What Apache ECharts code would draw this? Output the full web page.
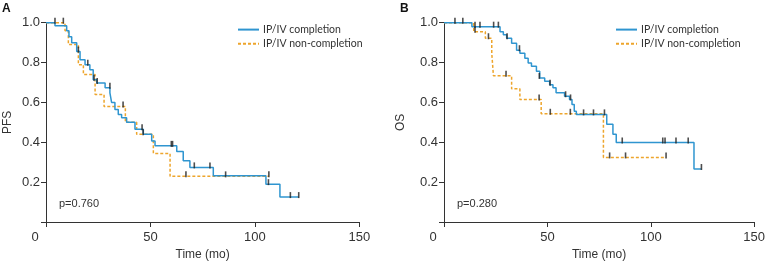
<!DOCTYPE html>
<html>
<head>
<meta charset="utf-8">
<script src="https://cdn.jsdelivr.net/npm/echarts@6/dist/echarts.min.js"></script>
<style>
  html, body { margin: 0; padding: 0; background: #fff; }
  #chart { width: 768px; height: 266px; }
</style>
</head>
<body>
<div id="chart"></div>
<script>
var names = ['IP/IV completion', 'IP/IV non-completion'];
var xTicks = [0, 50, 100, 150];

// PFS (panel A)
var pfsComp = [[0,1],[4.3,0.985],[9.9,0.96],[11,0.93],[12.3,0.9],[14.7,0.855],[16.3,0.814],[18.7,0.789],[21,0.764],[22.6,0.714],[24.3,0.698],[28.3,0.673],[30.6,0.648],[31.4,0.6],[33,0.565],[34.6,0.54],[36.2,0.523],[38.6,0.5],[42.6,0.465],[46.6,0.44],[50.6,0.407],[52.2,0.382],[62.6,0.354],[65.7,0.307],[68.9,0.274],[80.1,0.232],[105.3,0.19],[112,0.125],[121,0.125]];
var pfsNon = [[0,1],[9.1,0.96],[10.7,0.89],[15.5,0.789],[17.9,0.74],[23.5,0.64],[27.8,0.58],[38,0.5],[43.4,0.44],[51.4,0.344],[59.4,0.229],[106.7,0.229]];
var pfsCompCens = [[4.3,1],[8.3,1],[15.5,0.855],[20,0.789],[23,0.714],[24.5,0.698],[30.6,0.673],[46,0.465],[60,0.382],[60.6,0.382],[71,0.274],[78.5,0.274],[106.5,0.19],[117,0.125],[121,0.125]];
var pfsNonCens = [[36.9,0.58],[46.5,0.44],[67,0.229],[86,0.229],[106.7,0.229]];

// OS (panel B)
var osComp = [[0,1],[13.5,0.98],[27.1,0.955],[28.7,0.94],[30.3,0.922],[32.7,0.897],[35.1,0.862],[36.7,0.847],[39.1,0.822],[40.7,0.798],[42.3,0.781],[44.7,0.756],[46.3,0.723],[48.7,0.706],[51.1,0.689],[52.7,0.673],[54.2,0.648],[58.3,0.631],[60.7,0.615],[61.9,0.59],[63,0.556],[64,0.54],[78.7,0.49],[81.7,0.44],[83.3,0.399],[120.9,0.266],[124.5,0.266]];
var osNon = [[0,1],[14.4,0.955],[20,0.922],[23.1,0.847],[23.9,0.734],[32.7,0.668],[36.7,0.615],[47,0.543],[77.1,0.324],[107.4,0.324]];
var osCompCens = [[5.3,1],[9.1,1],[15,0.98],[17.4,0.98],[24,0.98],[26.3,0.98],[30.5,0.922],[36.5,0.862],[46.1,0.723],[51.3,0.689],[58.8,0.631],[61.2,0.615],[67.5,0.54],[72.3,0.54],[77.6,0.54],[86.2,0.399],[105.8,0.399],[106.9,0.399],[112.2,0.399],[118.1,0.399],[124.5,0.266]];
var osNonCens = [[15,0.955],[21.5,0.922],[30,0.734],[46,0.615],[51.4,0.543],[61.1,0.543],[80.1,0.324],[87.8,0.324],[107.4,0.324]];

var blue = '#2f95d0';
var orange = '#eda52c';
var axisColor = '#333';

function xAxisFor(i) {
  return {
    type: 'value', gridIndex: i, min: 0, max: 150, interval: 50,
    name: 'Time (mo)', nameLocation: 'middle', nameGap: 27,
    nameTextStyle: { fontFamily: 'Liberation Sans', fontSize: 12, color: axisColor },
    axisLine: { show: true, lineStyle: { color: axisColor, width: 1 } },
    axisTick: { show: true, length: 5, lineStyle: { color: axisColor } },
    splitLine: { show: false },
    axisLabel: {
      fontFamily: 'Liberation Sans', fontSize: 13, color: axisColor, margin: 9,
      formatter: function (v) { return v === 0 ? '{z|0}' : String(v); },
      rich: { z: { fontFamily: 'Liberation Sans', fontSize: 13, color: axisColor, padding: [0, 22, 0, 0] } }
    }
  };
}
function yAxisFor(i, nm, gap) {
  return {
    type: 'value', gridIndex: i, min: 0, max: 1, interval: 0.2,
    name: nm, nameLocation: 'middle', nameGap: gap,
    nameTextStyle: { fontFamily: 'Liberation Sans', fontSize: 12, color: axisColor },
    axisLine: { show: true, lineStyle: { color: axisColor, width: 1 } },
    axisTick: { show: true, length: 5, lineStyle: { color: axisColor } },
    splitLine: { show: false },
    axisLabel: {
      fontFamily: 'Liberation Sans', fontSize: 13, color: axisColor, margin: 6,
      formatter: function (v) { return v === 0 ? '' : v.toFixed(1); }
    }
  };
}
function curve(name, data, i, color, dashed) {
  return {
    name: name, type: 'line', step: 'end', xAxisIndex: i, yAxisIndex: i,
    data: data, symbol: 'none', silent: true,
    lineStyle: { color: color, width: 1.5, type: dashed ? [3, 2] : 'solid' },
    itemStyle: { color: color }
  };
}
function censor(data, i) {
  return {
    type: 'scatter', xAxisIndex: i, yAxisIndex: i, data: data, silent: true,
    symbol: 'rect', symbolSize: [1.6, 6], symbolOffset: [0, -2],
    itemStyle: { color: '#222' }, z: 5
  };
}
function legendAt(x) {
  return {
    left: x, top: 19, orient: 'vertical', itemWidth: 21, itemHeight: 14, itemGap: 3,
    data: names, itemStyle: { opacity: 0 },
    textStyle: { fontFamily: 'Lato', fontSize: 10.5, color: '#333', padding: [0, 0, 0, -1] }
  };
}

var chart = echarts.init(document.getElementById('chart'));
chart.setOption({
  animation: false,
  grid: [
    { left: 46, top: 22.7, width: 313.3, height: 200.6 },
    { left: 444, top: 22.7, width: 313.3, height: 200.6 }
  ],
  xAxis: [xAxisFor(0), xAxisFor(1)],
  yAxis: [yAxisFor(0, 'PFS', 32), yAxisFor(1, 'OS', 37)],
  legend: [legendAt(232), legendAt(610)],
  graphic: [
    { type: 'text', left: 2, top: 3, style: { text: 'A', font: 'bold 12px Liberation Sans', fill: '#111' } },
    { type: 'text', left: 400, top: 3, style: { text: 'B', font: 'bold 12px Liberation Sans', fill: '#111' } },
    { type: 'text', left: 59, top: 198, style: { text: 'p=0.760', font: '11px Liberation Sans', fill: '#333' } },
    { type: 'text', left: 457, top: 198, style: { text: 'p=0.280', font: '11px Liberation Sans', fill: '#333' } }
  ],
  series: [
    curve(names[1], pfsNon, 0, orange, true),
    curve(names[0], pfsComp, 0, blue, false),
    censor(pfsCompCens, 0),
    censor(pfsNonCens, 0),
    curve(names[1], osNon, 1, orange, true),
    curve(names[0], osComp, 1, blue, false),
    censor(osCompCens, 1),
    censor(osNonCens, 1)
  ]
});
</script>
</body>
</html>
